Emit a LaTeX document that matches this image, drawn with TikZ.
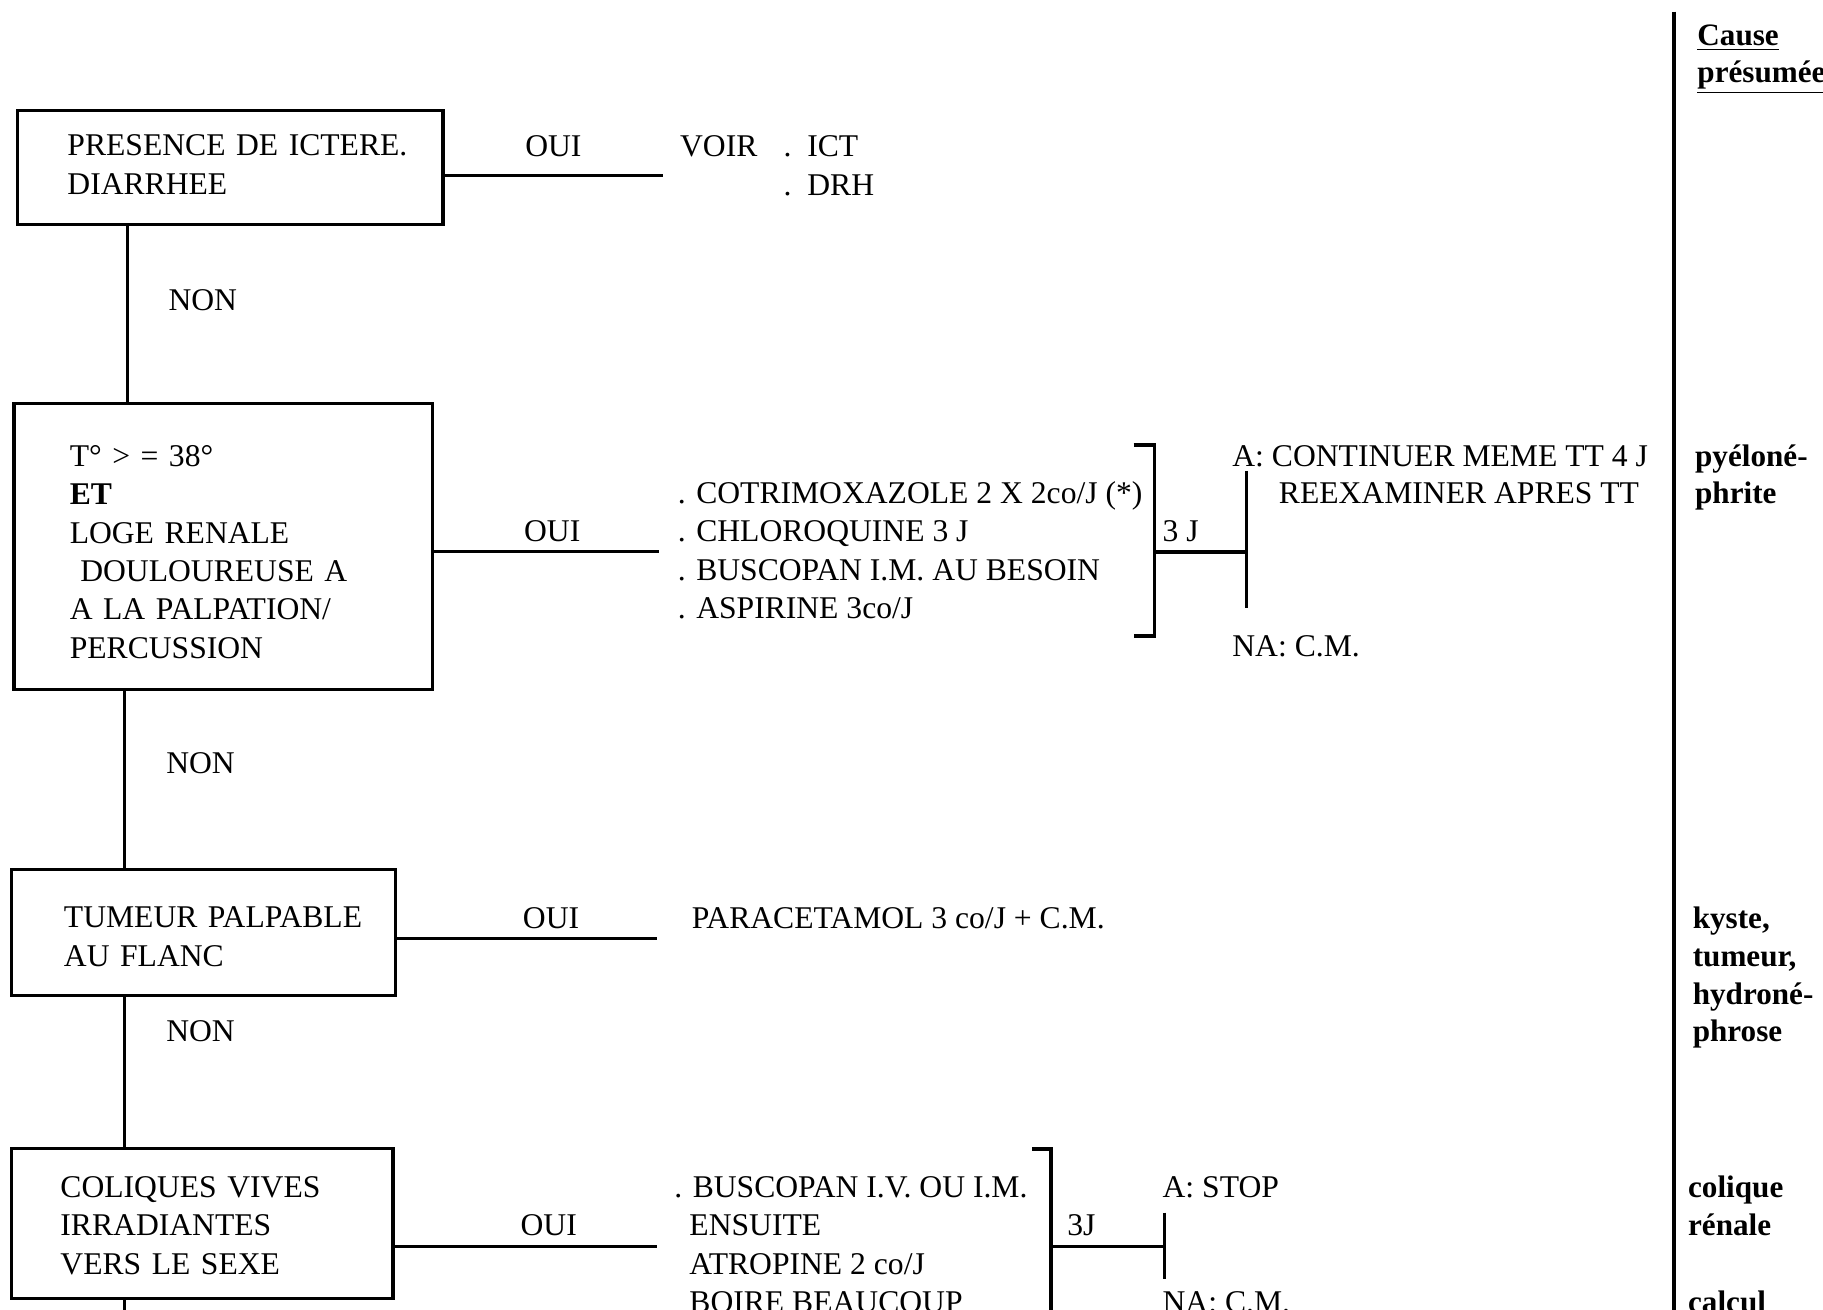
\documentclass[tikz,border=0pt]{standalone}
\usepackage{fontspec}
\setmainfont{Liberation Serif}
\usetikzlibrary{calc}
\newcommand{\boxlines}[2]{\begin{tabular}{@{}l@{}}\rule{0pt}{#1}#2\end{tabular}}
\begin{document}
\begin{tikzpicture}[x=0.5pt,y=-0.5pt,
  every node/.style={font=\fontsize{13.6}{16.5}\selectfont, inner sep=0pt, outer sep=0pt},
  box/.style={draw, line width=1.4pt, align=left, anchor=north west},
  txt/.style={anchor=base west},
  lbl/.style={anchor=base},
  cause/.style={anchor=base west, font=\fontsize{13.4}{16}\selectfont\bfseries},
  conn/.style={line width=1.3pt},
  brk/.style={line width=1.6pt},
]
\useasboundingbox (0,0) rectangle (1568,1126);
\clip (0,0) rectangle (1568,1126);

% ---------- boxes ----------
\node[box, minimum width=183pt, minimum height=49pt, text width=140pt, inner xsep=21.5pt] (b1) at (15,95)
  {\boxlines{11.55pt}{PRESENCE DE ICTERE.\\DIARRHEE}};
\node[box, minimum width=180pt, minimum height=123pt, text width=132pt, inner xsep=24pt] (b2) at (12,347)
  {\boxlines{18.5pt}{T° > = 38°\\\textbf{ET}\\LOGE RENALE\\\ DOULOUREUSE A\\A LA PALPATION/\\PERCUSSION}};
\node[box, minimum width=165pt, minimum height=54pt, text width=120pt, inner xsep=22.5pt] (b3) at (10,748)
  {\boxlines{17.5pt}{TUMEUR PALPABLE\\AU FLANC}};
\node[box, minimum width=164pt, minimum height=64.5pt, text width=122pt, inner xsep=21pt] (b4) at (10,988)
  {\boxlines{15.5pt}{COLIQUES VIVES\\IRRADIANTES\\VERS LE SEXE}};

% ---------- NON trunk ----------
\draw[conn] ($(b1.south west)+(95,0)$) -- ($(b2.north west)+(98,0)$);
\draw[conn] ($(b2.south west)+(95,0)$) -- ($(b3.north west)+(97,0)$);
\draw[conn] ($(b3.south west)+(97,0)$) -- ($(b4.north west)+(97,0)$);
\coordinate (tend) at (107,1140);
\draw[conn] ($(b4.south west)+(97,0)$) -- (tend);
\node[txt] (non1) at (145,267) {NON};
\node[txt] (non2) at (143,665) {NON};
\node[txt] (non3) at (143,896) {NON};

% ---------- OUI branches ----------
\coordinate (o1) at (570,151);
\draw[conn] (b1.east |- o1) -- (o1);
\node[lbl] (oui1) at (476,135) {OUI};
\node[txt] (voir) at (585,135) {VOIR};
\node[txt] (ict) at (674,135) {.\ \ ICT};
\node[txt] (drh) at (674,168) {.\ \ DRH};

\coordinate (o2) at (567,474);
\draw[conn] (b2.east |- o2) -- (o2);
\node[lbl] (oui2) at (475,466) {OUI};
\node[txt] (m21) at (583,433) {. COTRIMOXAZOLE 2 X 2co/J (*)};
\node[txt] (m22) at (583,466) {. CHLOROQUINE 3 J};
\node[txt] (m23) at (583,499) {. BUSCOPAN I.M. AU BESOIN};
\node[txt] (m24) at (583,532) {. ASPIRINE 3co/J};

\coordinate (k1a) at (975,383);
\coordinate (k1b) at (993,383);
\coordinate (k1c) at (993,547);
\coordinate (k1d) at (975,547);
\draw[brk] (k1a) -- (k1b) -- (k1c) -- (k1d);
\coordinate (k1m) at (993,475);
\coordinate (k1r) at (1072,475);
\coordinate (k1u) at (1072,405);
\coordinate (k1l) at (1072,523);
\draw[brk] (k1m) -- (k1r);
\draw[conn] (k1u) -- (k1l);
\node[txt] (tj1) at (1000,466) {3 J};
\node[txt] (a1) at (1060,401) {A: CONTINUER MEME TT 4 J};
\node[txt] (a1b) at (1100,433) {REEXAMINER APRES TT};
\node[txt] (na1) at (1060,565) {NA: C.M.};

\coordinate (o3) at (565,807);
\draw[conn] (b3.east |- o3) -- (o3);
\node[lbl] (oui3) at (474,799) {OUI};
\node[txt] (m31) at (595,799) {PARACETAMOL 3 co/J + C.M.};

\coordinate (o4) at (565,1072);
\draw[conn] (b4.east |- o4) -- (o4);
\node[lbl] (oui4) at (472,1063) {OUI};
\node[txt] (m41) at (580,1030) {. BUSCOPAN I.V. OU I.M.};
\node[txt] (m42) at (593,1063) {ENSUITE};
\node[txt] (m43) at (593,1096) {ATROPINE 2 co/J};
\node[txt] (m44) at (593,1129) {BOIRE BEAUCOUP};

\coordinate (k2a) at (888,988);
\coordinate (k2b) at (904,988);
\coordinate (k2c) at (904,1140);
\draw[brk] (k2a) -- (k2b) -- (k2c);
\coordinate (k2m) at (904,1072);
\coordinate (k2r) at (1002,1072);
\coordinate (k2u) at (1002,1043);
\coordinate (k2l) at (1002,1100);
\draw[brk] (k2m) -- (k2r);
\draw[conn] (k2u) -- (k2l);
\node[txt] (tj2) at (918,1063) {3J};
\node[txt] (a2) at (1000,1030) {A: STOP};
\node[txt] (na2) at (1000,1129) {NA: C.M.};

% ---------- cause column ----------
\coordinate (ct) at (1440,10);
\coordinate (cb) at (1440,1140);
\draw[line width=1.7pt] (ct) -- (cb);
\node[cause] (c0a) at (1460,39) {\underline{Cause}};
\node[cause] (c0b) at (1460,71) {\underline{présumée}};
\node[cause] (c1a) at (1458,401) {pyéloné-};
\node[cause] (c1b) at (1458,433) {phrite};
\node[cause] (c2a) at (1456,799) {kyste,};
\node[cause] (c2b) at (1456,831) {tumeur,};
\node[cause] (c2c) at (1456,864) {hydroné-};
\node[cause] (c2d) at (1456,896) {phrose};
\node[cause] (c3a) at (1452,1030) {colique};
\node[cause] (c3b) at (1452,1063) {rénale};
\node[cause] (c3c) at (1452,1129) {calcul};
\end{tikzpicture}
\end{document}
